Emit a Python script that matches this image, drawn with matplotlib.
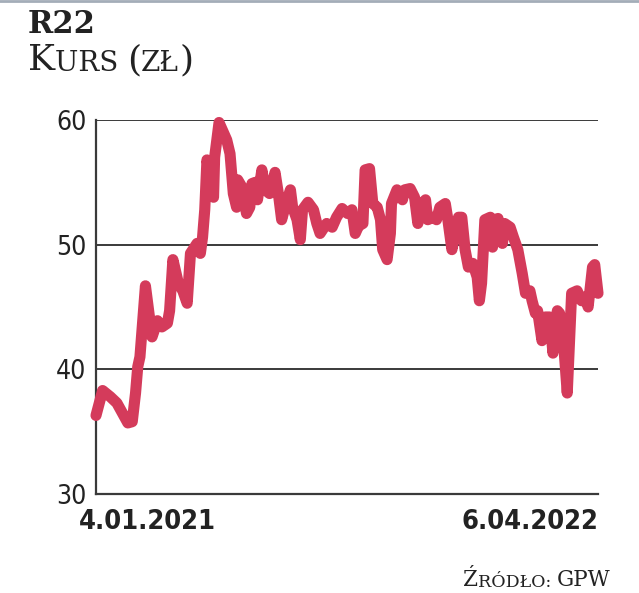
import matplotlib
matplotlib.use("Agg")
import matplotlib.pyplot as plt
import pandas as pd
from matplotlib.lines import Line2D

# ---- data ----
start_date = "2021-01-04"
end_label = "6.04.2022"
start_label = "4.01.2021"
days = [0, 6, 13, 19, 24, 29, 33, 36, 38, 40, 45, 51, 56, 60, 65, 67, 70, 75, 79, 83,
        86, 92, 95, 97, 99, 101, 107, 108, 112, 119, 122, 125, 128, 129, 133, 137, 140, 142, 145, 147,
        151, 154, 158, 163, 166, 169, 172, 177, 179, 183, 186, 188, 193, 198, 201, 204, 210, 215, 219, 224,
        229, 233, 236, 239, 243, 245, 249, 252, 256, 259, 261, 265, 268, 269, 274, 279, 281, 286, 290, 293,
        297, 300, 302, 307, 310, 313, 318, 320, 324, 327, 330, 333, 336, 339, 343, 347, 349, 351, 354, 359,
        361, 363, 366, 370, 372, 377, 380, 384, 388, 391, 395, 397, 400, 402, 406, 409, 413, 416, 420, 422,
        425, 429, 433, 438, 442, 445, 448, 452, 454, 457]
prices = [36.3, 38.3, 37.8, 37.3, 36.5, 35.7, 35.8, 38.1, 40.2, 41.0, 46.7, 42.6, 43.9, 43.4, 43.7, 44.7, 48.8, 46.9, 46.3, 45.3,
          49.3, 50.1, 49.3, 50.6, 52.8, 56.8, 53.8, 57.0, 59.8, 58.4, 57.3, 54.1, 53.0, 55.2, 54.6, 52.5, 53.0, 54.9, 55.0, 53.6,
          56.0, 54.4, 54.1, 55.8, 54.1, 52.0, 53.0, 54.4, 53.0, 52.0, 50.4, 52.8, 53.4, 52.8, 51.7, 50.9, 51.7, 51.4, 52.2, 52.9,
          52.5, 52.8, 50.9, 51.5, 51.7, 56.0, 56.1, 53.3, 53.0, 52.0, 49.6, 48.8, 50.9, 53.3, 54.4, 53.6, 54.4, 54.5, 53.8, 51.7,
          53.3, 53.6, 52.0, 52.2, 52.0, 53.0, 53.3, 52.2, 49.6, 50.9, 52.2, 52.2, 49.6, 48.2, 48.5, 47.4, 45.5, 46.9, 52.0, 52.2,
          49.8, 52.0, 52.1, 50.1, 51.7, 51.4, 50.6, 49.6, 47.7, 46.1, 46.3, 45.5, 44.5, 44.7, 42.3, 44.2, 44.2, 41.3, 44.7, 44.5,
          42.9, 38.1, 46.1, 46.3, 45.5, 45.8, 45.0, 48.2, 48.4, 46.1]
y_ticks = [30, 40, 50, 60]

dates = pd.to_datetime(start_date) + pd.to_timedelta(days, unit="D")

LINE = "#d43b5b"
GRID = "#3a3a3a"
TXT = "#222222"
COND = dict(family="DejaVu Sans", fontstretch="condensed")
SERIF = "DejaVu Serif"

fig = plt.figure(figsize=(6.39, 5.93), dpi=100)
ax = fig.add_axes([96 / 639, 99 / 593, 502 / 639, 374 / 593])
ax.plot(dates, prices, color=LINE, lw=8.0, solid_joinstyle="round",
        solid_capstyle="round", clip_on=False, zorder=3)
ax.set_xlim(dates[0], dates[-1])
ax.set_ylim(30, 60)

for s in ["top", "right"]:
    ax.spines[s].set_visible(False)
for s in ["left", "bottom"]:
    ax.spines[s].set_color(GRID)
    ax.spines[s].set_linewidth(1.6)
ax.spines["left"].set_bounds(30, 60)

ax.set_yticks(y_ticks)
ax.set_yticklabels([str(v) for v in y_ticks])
for lab in ax.get_yticklabels():
    lab.set_fontsize(19)
    lab.set_color(TXT)
    lab.set_family("DejaVu Sans")
    lab.set_fontstretch("condensed")
    lab.set_fontweight("light")
ax.tick_params(axis="y", length=0, pad=7)
for v in y_ticks[1:]:
    ax.axhline(v, color=GRID, lw=1.4, zorder=1)

ax.set_xticks([])
ax.annotate(start_label, xy=(dates[0], 30), xytext=(-12, -11), textcoords="offset points",
            ha="left", va="top", fontsize=19.5, fontweight="bold", color=TXT,
            annotation_clip=False, **COND)
ax.annotate(end_label, xy=(dates[-1], 30), xytext=(0, -11), textcoords="offset points",
            ha="right", va="top", fontsize=19.5, fontweight="bold", color=TXT,
            annotation_clip=False, **COND)

# Title
fig.text(28 / 639, 1 - 33 / 593, "R22", fontsize=22, fontweight="bold",
         family=SERIF, color=TXT, va="baseline")
t1 = fig.text(28 / 639, 1 - 70 / 593, "K", fontsize=26, family=SERIF,
              color=TXT, va="baseline")
ann = plt.annotate("URS ", xy=(1, 0), xycoords=t1, va="bottom", ha="left",
                   fontsize=20, family=SERIF, color=TXT, annotation_clip=False)
ann2 = plt.annotate("(", xy=(1, 0), xycoords=ann, va="bottom", ha="left",
                    fontsize=26, family=SERIF, color=TXT, annotation_clip=False)
ann3 = plt.annotate("ZŁ", xy=(1, 0), xycoords=ann2, va="bottom", ha="left",
                    fontsize=20, family=SERIF, color=TXT, annotation_clip=False)
plt.annotate(")", xy=(1, 0), xycoords=ann3, va="bottom", ha="left",
             fontsize=26, family=SERIF, color=TXT, annotation_clip=False)

# Source: "Źródło: GPW" in small caps
s3 = fig.text(1 - 29 / 639, 1 - 586 / 593, "GPW", fontsize=15.5,
              family=SERIF, color=TXT, ha="right", va="baseline")
s2 = plt.annotate("RÓDŁO: ", xy=(0, 0), xycoords=s3, va="bottom", ha="right",
                  fontsize=12.5, family=SERIF, color=TXT, annotation_clip=False)
plt.annotate("Ź", xy=(0, 0), xycoords=s2, va="bottom", ha="right",
             fontsize=15.5, family=SERIF, color=TXT, annotation_clip=False)

# top border line
fig.add_artist(Line2D([0, 1], [0.998, 0.998], transform=fig.transFigure,
                      color="#a3adb8", lw=2))

fig.savefig("out.png", dpi=100)
